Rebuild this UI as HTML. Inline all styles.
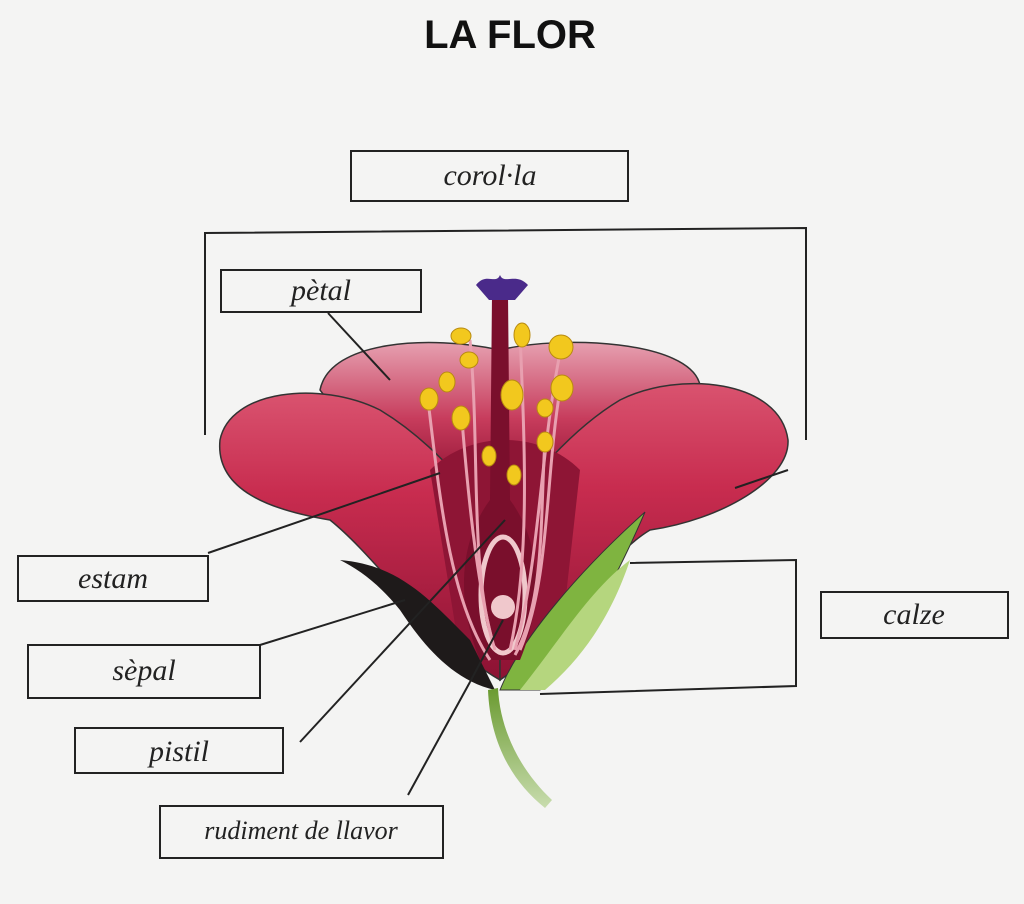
<!DOCTYPE html>
<html><head><meta charset="utf-8"><style>
html,body{margin:0;padding:0;background:#f4f4f3;}
svg{display:block}
.lb{font-family:"Liberation Serif",serif;font-style:italic;font-size:30px;fill:#222}
</style></head><body>
<svg width="1024" height="904" viewBox="0 0 1024 904" xmlns="http://www.w3.org/2000/svg">
<defs>
<linearGradient id="pet" x1="0" y1="0" x2="0" y2="1">
<stop offset="0" stop-color="#d9536f"/><stop offset="0.35" stop-color="#c82c4f"/><stop offset="1" stop-color="#8c1233"/>
</linearGradient>
<linearGradient id="pet2" x1="0" y1="0" x2="0" y2="1">
<stop offset="0" stop-color="#e6a0b0"/><stop offset="0.6" stop-color="#c73c5c"/><stop offset="1" stop-color="#9c1b3c"/>
</linearGradient>
<linearGradient id="stem" x1="0" y1="0" x2="0" y2="1"><stop offset="0" stop-color="#6a9a30"/><stop offset="1" stop-color="#c8dcae"/></linearGradient>
</defs>
<rect width="1024" height="904" fill="#f4f4f3"/>
<text x="510" y="48" text-anchor="middle" font-family="Liberation Sans,sans-serif" font-weight="bold" font-size="40" fill="#111">LA FLOR</text>
<g fill="none" stroke="#222" stroke-width="2">
<rect x="351" y="151" width="277" height="50"/>
<polyline points="205,435 205,233 806,228 806,440"/>
<rect x="221" y="270" width="200" height="42"/>
<rect x="18" y="556" width="190" height="45"/>
<rect x="28" y="645" width="232" height="53"/>
<rect x="75" y="728" width="208" height="45"/>
<rect x="160" y="806" width="283" height="52"/>
<rect x="821" y="592" width="187" height="46"/>
</g>
<path d="M320,390 C330,340 430,335 500,350 C560,335 690,340 700,385 L640,470 L380,470 Z" fill="url(#pet2)" stroke="#333" stroke-width="1.5"/>
<path d="M500,680 C430,640 380,560 330,520 C270,510 215,490 220,440 C230,390 320,380 380,410 C430,440 460,480 500,520 Z" fill="url(#pet)" stroke="#333" stroke-width="1.5"/>
<path d="M500,680 C560,640 600,560 650,530 C720,520 790,480 788,440 C780,380 680,370 620,400 C570,430 530,480 500,520 Z" fill="url(#pet)" stroke="#333" stroke-width="1.5"/>
<path d="M430,470 C470,430 540,430 580,470 L560,650 L460,655 Z" fill="#8e1535"/>
<path d="M340,560 C400,565 430,600 470,640 L495,690 C450,680 420,640 400,610 C380,585 360,570 340,560 Z" fill="#1e1a1a"/>
<path d="M500,690 C520,640 580,570 645,512 C620,570 590,630 540,690 Z" fill="#7fb440" stroke="#333" stroke-width="1"/>
<path d="M520,690 C560,640 590,590 630,560 C610,620 580,660 545,690 Z" fill="#b5d67e"/>
<path d="M498,688 C500,730 520,770 552,800 L545,808 C510,780 490,740 488,690 Z" fill="url(#stem)"/>
<path d="M492,295 L508,295 L510,500 C540,540 545,600 520,660 L480,660 C455,600 460,540 490,500 Z" fill="#7a0f2c"/>
<path d="M476,285 C486,272 496,285 500,275 C504,285 516,272 528,285 L515,300 L489,300 Z" fill="#4a2a8a"/>
<ellipse cx="503" cy="595" rx="22" ry="58" fill="none" stroke="#f0c8cc" stroke-width="5"/>
<circle cx="503" cy="607" r="12" fill="#f0c8cc"/>
<g stroke="#e8a0b0" stroke-width="3" fill="none">
<path d="M428,400 C440,500 450,600 490,660"/><path d="M462,420 C470,520 480,600 495,650"/>
<path d="M470,340 C480,450 470,560 492,640"/><path d="M561,348 C540,450 540,560 515,650"/>
<path d="M560,390 C545,480 550,580 520,650"/><path d="M520,335 C525,450 530,560 510,650"/>
<path d="M545,440 C540,520 545,600 515,655"/>
</g>
<g fill="#f2c81e" stroke="#b88a10" stroke-width="1">
<ellipse cx="461" cy="336" rx="10" ry="8"/><ellipse cx="469" cy="360" rx="9" ry="8"/>
<ellipse cx="447" cy="382" rx="8" ry="10"/><ellipse cx="429" cy="399" rx="9" ry="11"/>
<ellipse cx="461" cy="418" rx="9" ry="12"/><ellipse cx="489" cy="456" rx="7" ry="10"/>
<ellipse cx="512" cy="395" rx="11" ry="15"/><ellipse cx="514" cy="475" rx="7" ry="10"/>
<ellipse cx="522" cy="335" rx="8" ry="12"/><ellipse cx="561" cy="347" rx="12" ry="12"/>
<ellipse cx="562" cy="388" rx="11" ry="13"/><ellipse cx="545" cy="408" rx="8" ry="9"/>
<ellipse cx="545" cy="442" rx="8" ry="10"/>
</g>
<g fill="none" stroke="#222" stroke-width="2">
<line x1="328" y1="313" x2="390" y2="380"/>
<line x1="208" y1="553" x2="440" y2="473"/>
<line x1="260" y1="645" x2="405" y2="600"/>
<line x1="300" y1="742" x2="505" y2="520"/>
<line x1="408" y1="795" x2="470" y2="682"/>
<line x1="470" y1="682" x2="503" y2="620"/>
<polyline points="630,563 796,560 796,686 540,694"/>
<line x1="735" y1="488" x2="788" y2="470"/>
</g>
<text class="lb" x="490" y="185" text-anchor="middle">corol·la</text>
<text class="lb" x="321" y="300" text-anchor="middle">pètal</text>
<text class="lb" x="113" y="588" text-anchor="middle">estam</text>
<text class="lb" x="144" y="680" text-anchor="middle">sèpal</text>
<text class="lb" x="179" y="761" text-anchor="middle">pistil</text>
<text class="lb" x="301" y="839" text-anchor="middle" style="font-size:26px">rudiment de llavor</text>
<text class="lb" x="914" y="624" text-anchor="middle">calze</text>
</svg>
</body></html>
